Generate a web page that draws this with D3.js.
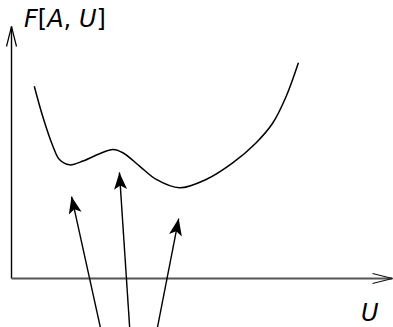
<!DOCTYPE html>
<html lang="en">
<head>
<meta charset="utf-8">
<title>F[A, U] sketch</title>
<script src="https://cdn.jsdelivr.net/npm/d3@7"></script>
<style>
  body { margin: 0; background: #fff; }
  text { font-family: "DejaVu Sans", sans-serif; }
</style>
</head>
<body>
<script>
var w = 393;
var h = 327;

// curve F(U)
var curveU = [0.60, 0.82, 1.09, 1.26, 1.53, 1.88, 2.32, 2.67, 2.93, 3.37, 3.81, 4.42, 5.12, 5.82, 6.44, 6.88, 7.23, 7.55];
var curveF = [7.63, 6.44, 5.25, 4.72, 4.51, 4.66, 4.95, 5.12, 4.99, 4.46, 3.93, 3.60, 3.93, 4.59, 5.39, 6.18, 7.23, 8.56];

// arrows pointing at the stationary points (from below the axis)
var arrowFromU = [2.34, 3.11, 3.84];
var arrowFromF = [-1.95, -1.95, -1.95];
var arrowToU = [1.58, 2.84, 4.40];
var arrowToF = [3.25, 4.21, 2.38];

var xLabel = "U";

var xScale = d3.scaleLinear().domain([0, 10]).range([11.5, 391.5]);
var yScale = d3.scaleLinear().domain([0, 10]).range([278.5, 26.5]);

var svg = d3.select("body").append("svg")
    .attr("width", w)
    .attr("height", h);

var defs = svg.append("defs");
defs.append("marker")
    .attr("id", "head")
    .attr("viewBox", "-18 -7 20 14")
    .attr("refX", 0)
    .attr("refY", 0)
    .attr("markerUnits", "userSpaceOnUse")
    .attr("markerWidth", 20)
    .attr("markerHeight", 14)
    .attr("orient", "auto")
  .append("path")
    .attr("d", "M0,0 L-17,-6.5 L-13,0 L-17,6.5 Z")
    .attr("fill", "#000");

// axes with open arrowheads
var x0 = xScale(0), y0 = yScale(0);
var yTop = yScale(10), xEnd = xScale(10) + 1;

svg.append("line")
    .attr("x1", x0).attr("y1", y0)
    .attr("x2", x0).attr("y2", yTop)
    .attr("stroke", "#000").attr("stroke-width", 1.4);
svg.append("path")
    .attr("d", "M" + (x0 - 5) + "," + (yTop + 20) + " L" + x0 + "," + yTop + " L" + (x0 + 5) + "," + (yTop + 20))
    .attr("fill", "none").attr("stroke", "#000").attr("stroke-width", 1.2);

svg.append("line")
    .attr("x1", x0).attr("y1", y0)
    .attr("x2", xEnd).attr("y2", y0)
    .attr("stroke", "#555").attr("stroke-width", 2);
svg.append("path")
    .attr("d", "M" + (xEnd - 20) + "," + (y0 - 5) + " L" + xEnd + "," + y0 + " L" + (xEnd - 20) + "," + (y0 + 5))
    .attr("fill", "none").attr("stroke", "#111").attr("stroke-width", 1.2);

// the curve
var line = d3.line()
    .x(function(d, i) { return xScale(curveU[i]); })
    .y(function(d, i) { return yScale(curveF[i]); })
    .curve(d3.curveCatmullRom.alpha(0.5));

svg.append("path")
    .attr("d", line(curveU))
    .attr("fill", "none")
    .attr("stroke", "#000")
    .attr("stroke-width", 1.5);

// arrows
svg.selectAll("line.arrow")
    .data(arrowToU)
    .enter()
    .append("line")
    .attr("class", "arrow")
    .attr("x1", function(d, i) { return xScale(arrowFromU[i]); })
    .attr("y1", function(d, i) { return yScale(arrowFromF[i]); })
    .attr("x2", function(d, i) { return xScale(arrowToU[i]); })
    .attr("y2", function(d, i) { return yScale(arrowToF[i]); })
    .attr("stroke", "#000")
    .attr("stroke-width", 1.4)
    .attr("marker-end", "url(#head)");

// labels
var yLab = svg.append("text")
    .attr("x", 24)
    .attr("y", 27)
    .attr("font-size", 24);
yLab.append("tspan").attr("font-style", "italic").text("F");
yLab.append("tspan").text("[");
yLab.append("tspan").attr("font-style", "italic").text("A");
yLab.append("tspan").text(", ");
yLab.append("tspan").attr("font-style", "italic").text("U");
yLab.append("tspan").text("]");

svg.append("text")
    .attr("x", 361)
    .attr("y", 321)
    .attr("font-size", 24)
    .attr("font-style", "italic")
    .text(xLabel);
</script>
</body>
</html>
